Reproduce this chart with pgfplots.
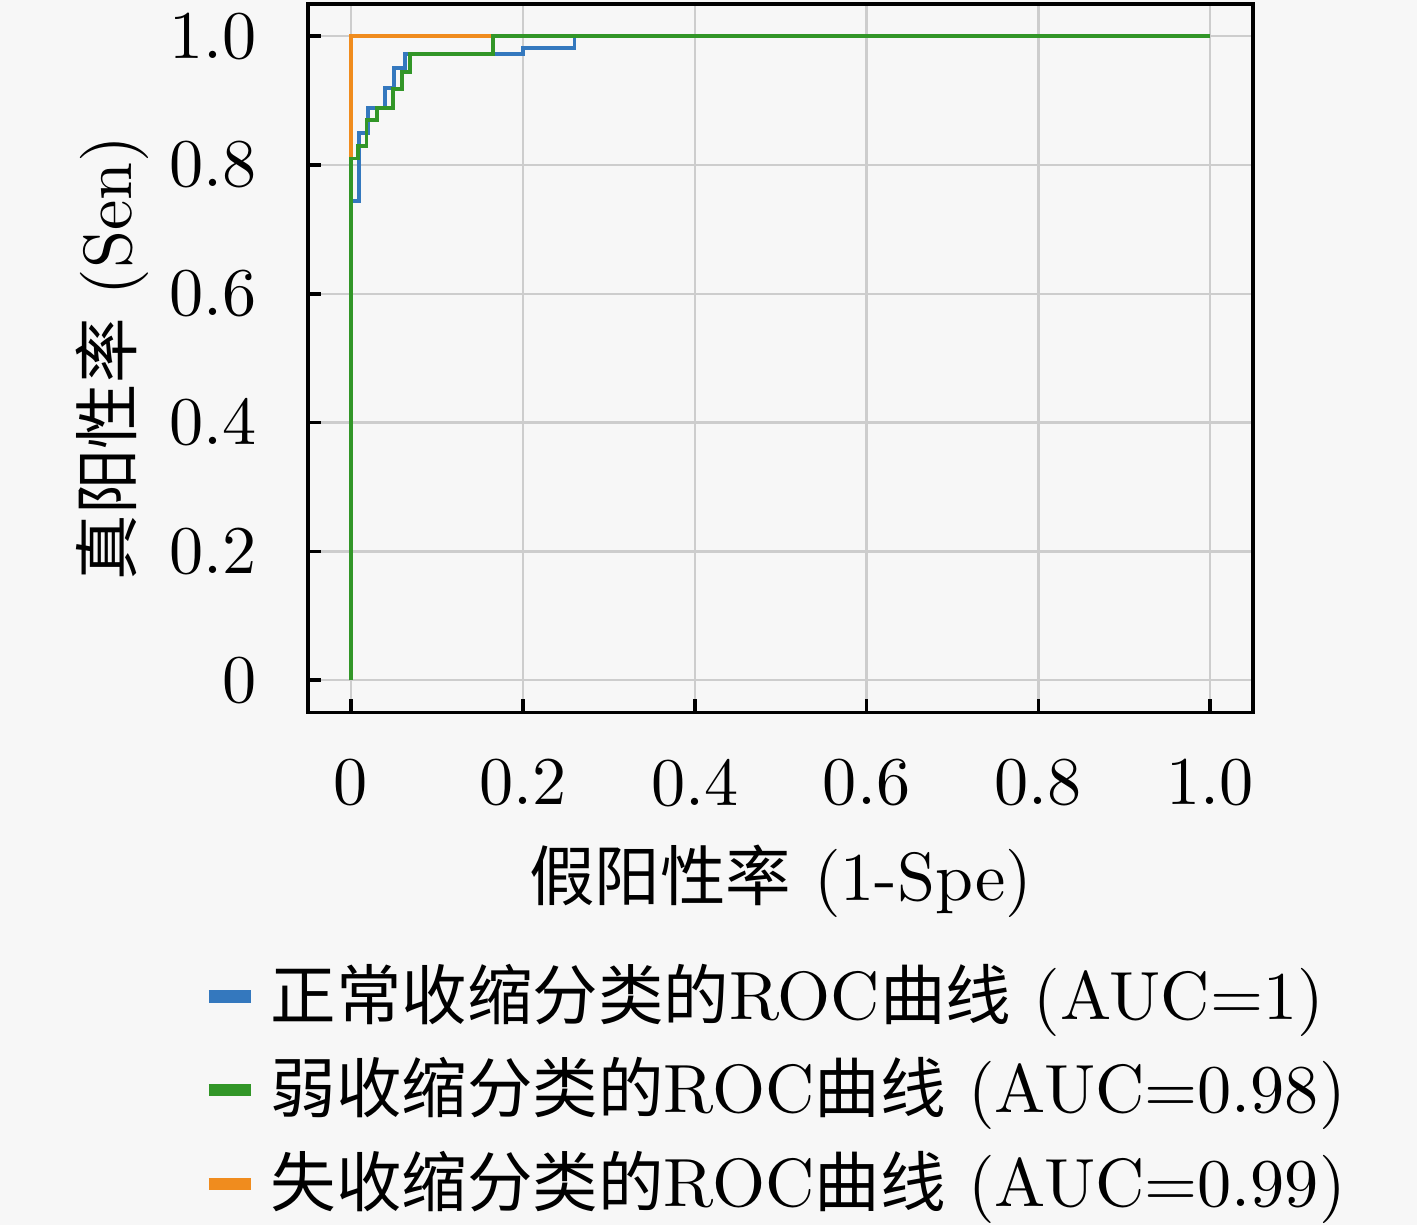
\documentclass[border=0pt]{standalone}
\usepackage{pgfplots}
\pgfplotsset{compat=1.18}
\usepackage{fontspec}
\newfontfamily\cjk[Scale=0.96]{Noto Sans CJK SC}
\usetikzlibrary{backgrounds}
\definecolor{cblue}{RGB}{52,120,190}
\definecolor{cgreen}{RGB}{50,150,40}
\definecolor{corange}{RGB}{240,140,30}
\definecolor{bgc}{RGB}{247,247,247}
\begin{document}
\begin{tikzpicture}
\begin{axis}[
  name=ax,
  scale only axis,
  width=145.4pt, height=109pt,
  xmin=-0.05, xmax=1.05, ymin=-0.05, ymax=1.05,
  xtick={0,0.2,0.4,0.6,0.8,1.0},
  ytick={0,0.2,0.4,0.6,0.8,1.0},
  xticklabels={0,0.2,0.4,0.6,0.8,1.0},
  yticklabels={0,0.2,0.4,0.6,0.8,1.0},
  tick pos=left, tick align=inside,
  major tick length=2pt,
  grid=major,
  major grid style={draw={rgb,255:red,205;green,205;blue,205}, line width=0.35pt},
  axis line style={line width=0.55pt},
  tick style={line width=0.55pt, black},
  font=\fontsize{10.5}{12.5}\selectfont,
  xticklabel style={yshift=-3.6pt},
  yticklabel style={xshift=-4.4pt},
  xlabel={{\cjk 假阳性率} (1-Spe)},
  ylabel={{\cjk 真阳性率} (Sen)},
  xlabel style={yshift=1pt},
  ylabel style={yshift=-3.6pt},
  legend style={at={(0.5,0)}, anchor=north, yshift=-34.5pt, draw=none, fill=none,
    cells={anchor=west}, row sep=0.4pt, font=\fontsize{10.5}{12.5}\selectfont},
  legend image code/.code={\draw[#1, line width=1.9pt] (0cm,0cm) -- (0.23cm,0cm);},
  axis background/.style={fill=bgc},
]
\addplot[corange, line width=0.6pt, forget plot] coordinates {(0,0)(0,1)(1,1)};
\addplot[cblue, line width=0.6pt, forget plot] coordinates {
(0,0)(0,0.744)(0.009,0.744)(0.009,0.85)(0.02,0.85)(0.02,0.889)(0.04,0.889)(0.04,0.92)(0.05,0.92)(0.05,0.951)(0.063,0.951)(0.063,0.972)(0.2,0.972)(0.2,0.981)(0.26,0.981)(0.26,1)(1,1)};
\addplot[cgreen, line width=0.6pt, forget plot] coordinates {
(0,0)(0,0.81)(0.008,0.81)(0.008,0.83)(0.018,0.83)(0.018,0.87)(0.03,0.87)(0.03,0.889)(0.049,0.889)(0.049,0.918)(0.059,0.918)(0.059,0.944)(0.069,0.944)(0.069,0.972)(0.165,0.972)(0.165,1)(1,1)};
\addlegendimage{cblue}
\addlegendentry{{\cjk 正常收缩分类的}ROC{\cjk 曲线} (AUC=1)}
\addlegendimage{cgreen}
\addlegendentry{{\cjk 弱收缩分类的}ROC{\cjk 曲线} (AUC=0.98)}
\addlegendimage{corange}
\addlegendentry{{\cjk 失收缩分类的}ROC{\cjk 曲线} (AUC=0.99)}
\end{axis}
\pgfresetboundingbox
\coordinate (BL) at ([xshift=-47.4pt,yshift=-78.8pt]ax.south west);
\coordinate (TR) at ([xshift=25.2pt,yshift=0.6pt]ax.north east);
\begin{scope}[on background layer]
\fill[bgc] (BL) rectangle (TR);
\end{scope}
\path (BL) rectangle (TR);
\end{tikzpicture}
\end{document}
